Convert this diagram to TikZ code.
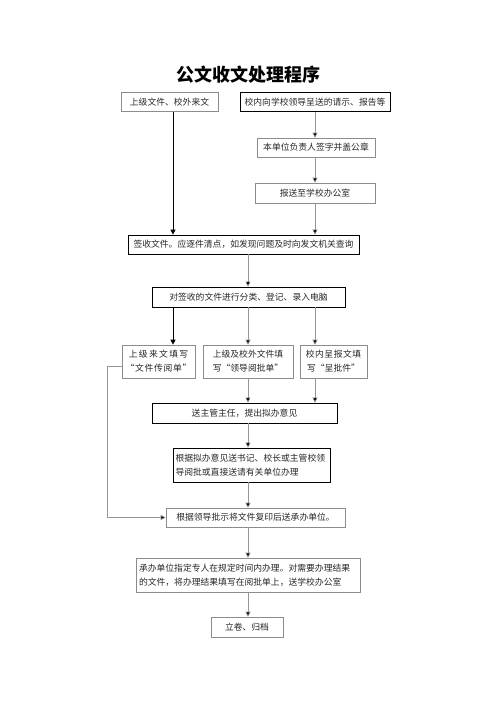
\documentclass[tikz,border=0pt]{standalone}
\usepackage{fontspec}
\setmainfont{Noto Sans CJK SC}
\usetikzlibrary{arrows.meta}
\definecolor{lgray}{RGB}{140,140,140}
\definecolor{lline}{RGB}{150,150,150}
\tikzset{
  box/.style={draw=lgray, line width=0.6pt, minimum height=#1, inner sep=2pt, font=\fontsize{8.8}{13.8}\selectfont, text=black!85},
  box/.default={19pt},
  sbox/.style={box=#1, draw=black, line width=0.8pt},
  sbox/.default={19pt},
  arr/.style={line width=0.6pt, draw=lline, -{Triangle[length=5pt,width=5pt,fill=black]}},
  barr/.style={arr, draw=black, line width=0.9pt},
  conn/.style={line width=0.6pt, draw=lline}
}
\begin{document}
\begin{tikzpicture}[x=1pt,y=-1pt]
\useasboundingbox (0,0) rectangle (496,702);
\node[font=\fontsize{18}{21}\selectfont\bfseries] (title) at (248,75) {公文收文处理程序};

\node[box, minimum width=97pt] (b1) at (169.5,102) {上级文件、校外来文};
\node[sbox, minimum width=150pt] (b2) at (315,102) {校内向学校领导呈送的请示、报告等};
\node[box, minimum width=118pt] (b3) at (316,147.5) {本单位负责人签字并盖公章};
\node[box=20pt, minimum width=120pt] (b4) at (315,193) {报送至学校办公室};
\node[sbox, minimum width=231pt] (b5) at (243.5,244.5) {签收文件。应逐件清点，如发现问题及时向发文机关查询};
\node[sbox=20pt, minimum width=193pt] (b6) at (248.5,297) {对签收的文件进行分类、登记、录入电脑};
\node[box=33pt, minimum width=73pt, align=center] (b7) at (158.5,361.5) {\addfontfeature{LetterSpace=15}上级来文填写\\\addfontfeature{LetterSpace=8}“文件传阅单”};
\node[box=33pt, minimum width=90pt, align=center] (b8) at (248,361.5) {上级及校外文件填\\写“领导阅批单”};
\node[box=33pt, minimum width=67pt, align=center] (b9) at (333.5,361.5) {\addfontfeature{LetterSpace=6}校内呈报文填\\写“呈批件”};
\node[sbox=20pt, minimum width=185pt] (b10) at (244.5,413) {送主管主任，提出拟办意见};
\node[sbox=34pt, minimum width=157pt, text width=152pt, align=left] (b11) at (251.5,465) {根据拟办意见送书记、校长或主管校领\\导阅批或直接送请有关单位办理};
\node[box, minimum width=179pt] (b12) at (255.5,517.5) {根据领导批示将文件复印后送承办单位。};
\node[box=34pt, minimum width=224pt, text width=218pt, align=left] (b13) at (248,575) {承办单位指定专人在规定时间内办理。对需要办理结果\\的文件，将办理结果填写在阅批单上，送学校办公室};
\node[box=20pt, minimum width=72pt] (b14) at (247,627) {立卷、归档};

\coordinate (xa) at (173,0);
\coordinate (xb) at (248,0);
\coordinate (xc) at (315,0);
\coordinate (xl) at (107,0);
\coordinate (ya) at (0,366);

\draw[barr] (b1.south -| xa) -- (b5.north -| xa);
\draw[arr] (b2.south -| xc) -- (b3.north -| xc);
\draw[arr] (b3.south -| xc) -- (b4.north -| xc);
\draw[arr] (b4.south -| xc) -- (b5.north -| xc);
\draw[arr] (b5.south -| xb) -- (b6.north -| xb);
\draw[barr] (b6.south -| xa) -- (b7.north -| xa);
\draw[arr] (b6.south -| xb) -- (b8.north -| xb);
\draw[arr] (b6.south -| xc) -- (b9.north -| xc);
\draw[arr] (b8.south -| xb) -- (b10.north -| xb);
\draw[arr] (b9.south -| xc) -- (b10.north -| xc);
\draw[arr] (b10.south -| xb) -- (b11.north -| xb);
\draw[arr] (b11.south -| xb) -- (b12.north -| xb);
\draw[arr] (b7.west |- ya) -- (xl |- ya) -- (xl |- b12.west) -- (b12.west);
\draw[arr] (b12.south -| xb) -- (b13.north -| xb);
\draw[arr] (b13.south -| xb) -- (b14.north -| xb);
\end{tikzpicture}
\end{document}
